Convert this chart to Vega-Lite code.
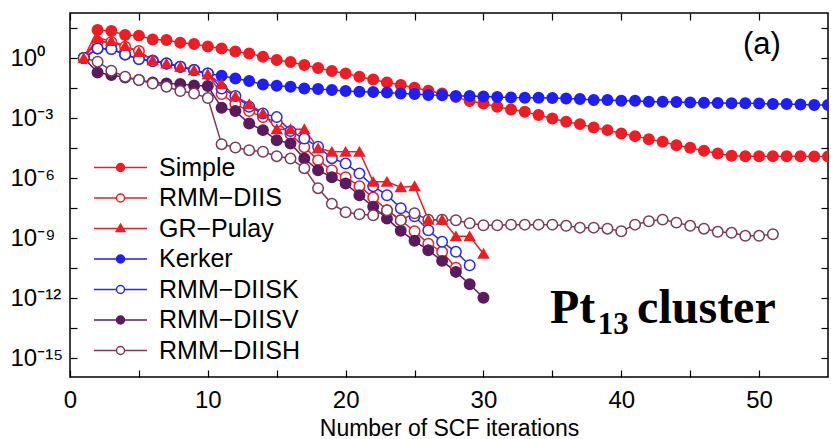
{
 "$schema": "https://vega.github.io/schema/vega-lite/v6.json",
 "width": 758, "height": 364,
 "autosize": {"type": "none"},
 "padding": {"left": 70, "top": 13, "right": 3, "bottom": 62},
 "background": "white",
 "config": {
  "view": {"stroke": "black", "strokeWidth": 1.5},
  "axis": {"domain": false, "grid": false, "tickColor": "black", "tickWidth": 1.2, "tickSize": -7,
   "labelFont": "Liberation Sans", "labelFontSize": 24, "labelColor": "black",
   "titleFont": "Liberation Sans", "titleFontSize": 23, "titleFontWeight": "normal", "titleColor": "black"},
  "legend": {"title": null, "orient": "none", "legendX": 38, "legendY": 142, "padding": 0, "labelFont": "Liberation Sans", "labelFontSize": 25, "labelColor": "black", "labelOffset": 26, "symbolSize": 100, "symbolStrokeWidth": 1.5, "rowPadding": 4.5, "labelLimit": 300}
 },
 "datasets": {
  "conv": [
   {"m":"Simple","n":1,"e":0},{"m":"Simple","n":2,"e":1.4},{"m":"Simple","n":3,"e":1.35},{"m":"Simple","n":4,"e":1.15},{"m":"Simple","n":5,"e":1.12},{"m":"Simple","n":6,"e":0.93},{"m":"Simple","n":7,"e":0.9},{"m":"Simple","n":8,"e":0.77},{"m":"Simple","n":9,"e":0.7},{"m":"Simple","n":10,"e":0.58},{"m":"Simple","n":11,"e":0.48},{"m":"Simple","n":12,"e":0.33},{"m":"Simple","n":13,"e":0.23},{"m":"Simple","n":14,"e":0.07},{"m":"Simple","n":15,"e":-0.1},{"m":"Simple","n":16,"e":-0.2},{"m":"Simple","n":17,"e":-0.35},{"m":"Simple","n":18,"e":-0.5},{"m":"Simple","n":19,"e":-0.65},{"m":"Simple","n":20,"e":-0.77},{"m":"Simple","n":21,"e":-0.93},{"m":"Simple","n":22,"e":-1.07},{"m":"Simple","n":23,"e":-1.22},{"m":"Simple","n":24,"e":-1.35},{"m":"Simple","n":25,"e":-1.48},{"m":"Simple","n":26,"e":-1.63},{"m":"Simple","n":27,"e":-1.77},{"m":"Simple","n":28,"e":-1.95},{"m":"Simple","n":29,"e":-2.15},{"m":"Simple","n":30,"e":-2.27},{"m":"Simple","n":31,"e":-2.43},{"m":"Simple","n":32,"e":-2.57},{"m":"Simple","n":33,"e":-2.68},{"m":"Simple","n":34,"e":-2.85},{"m":"Simple","n":35,"e":-3.02},{"m":"Simple","n":36,"e":-3.18},{"m":"Simple","n":37,"e":-3.3},{"m":"Simple","n":38,"e":-3.47},{"m":"Simple","n":39,"e":-3.6},{"m":"Simple","n":40,"e":-3.77},{"m":"Simple","n":41,"e":-3.9},{"m":"Simple","n":42,"e":-4.05},{"m":"Simple","n":43,"e":-4.18},{"m":"Simple","n":44,"e":-4.35},{"m":"Simple","n":45,"e":-4.48},{"m":"Simple","n":46,"e":-4.63},{"m":"Simple","n":47,"e":-4.77},{"m":"Simple","n":48,"e":-4.88},{"m":"Simple","n":49,"e":-4.9},{"m":"Simple","n":50,"e":-4.9},{"m":"Simple","n":51,"e":-4.9},{"m":"Simple","n":52,"e":-4.9},{"m":"Simple","n":53,"e":-4.9},{"m":"Simple","n":54,"e":-4.92},{"m":"Simple","n":55,"e":-4.92},
   {"m":"RMM-DIIS","n":1,"e":0},{"m":"RMM-DIIS","n":2,"e":0.82},{"m":"RMM-DIIS","n":3,"e":0.8},{"m":"RMM-DIIS","n":4,"e":0.57},{"m":"RMM-DIIS","n":5,"e":0.35},{"m":"RMM-DIIS","n":6,"e":-0.12},{"m":"RMM-DIIS","n":7,"e":-0.27},{"m":"RMM-DIIS","n":8,"e":-0.43},{"m":"RMM-DIIS","n":9,"e":-0.6},{"m":"RMM-DIIS","n":10,"e":-0.8},{"m":"RMM-DIIS","n":11,"e":-1.8},{"m":"RMM-DIIS","n":12,"e":-2.3},{"m":"RMM-DIIS","n":13,"e":-2.65},{"m":"RMM-DIIS","n":14,"e":-2.95},{"m":"RMM-DIIS","n":15,"e":-3.2},{"m":"RMM-DIIS","n":16,"e":-3.8},{"m":"RMM-DIIS","n":17,"e":-4.45},{"m":"RMM-DIIS","n":18,"e":-5.1},{"m":"RMM-DIIS","n":19,"e":-5.6},{"m":"RMM-DIIS","n":20,"e":-5.95},{"m":"RMM-DIIS","n":21,"e":-6.4},{"m":"RMM-DIIS","n":22,"e":-6.97},{"m":"RMM-DIIS","n":23,"e":-7.6},{"m":"RMM-DIIS","n":24,"e":-8.1},{"m":"RMM-DIIS","n":25,"e":-8.65},{"m":"RMM-DIIS","n":26,"e":-9.27},{"m":"RMM-DIIS","n":27,"e":-9.68},{"m":"RMM-DIIS","n":28,"e":-10.47},
   {"m":"GR-Pulay","n":1,"e":0},{"m":"GR-Pulay","n":2,"e":1.0},{"m":"GR-Pulay","n":3,"e":0.85},{"m":"GR-Pulay","n":4,"e":0.6},{"m":"GR-Pulay","n":5,"e":0.3},{"m":"GR-Pulay","n":6,"e":-0.1},{"m":"GR-Pulay","n":7,"e":-0.27},{"m":"GR-Pulay","n":8,"e":-0.43},{"m":"GR-Pulay","n":9,"e":-0.6},{"m":"GR-Pulay","n":10,"e":-0.8},{"m":"GR-Pulay","n":11,"e":-1.3},{"m":"GR-Pulay","n":12,"e":-1.9},{"m":"GR-Pulay","n":13,"e":-2.3},{"m":"GR-Pulay","n":14,"e":-2.75},{"m":"GR-Pulay","n":15,"e":-3.55},{"m":"GR-Pulay","n":16,"e":-3.55},{"m":"GR-Pulay","n":17,"e":-3.55},{"m":"GR-Pulay","n":18,"e":-4.5},{"m":"GR-Pulay","n":19,"e":-4.68},{"m":"GR-Pulay","n":20,"e":-4.68},{"m":"GR-Pulay","n":21,"e":-4.68},{"m":"GR-Pulay","n":22,"e":-6.18},{"m":"GR-Pulay","n":23,"e":-6.18},{"m":"GR-Pulay","n":24,"e":-6.45},{"m":"GR-Pulay","n":25,"e":-6.4},{"m":"GR-Pulay","n":26,"e":-8.07},{"m":"GR-Pulay","n":27,"e":-8.07},{"m":"GR-Pulay","n":28,"e":-8.9},{"m":"GR-Pulay","n":29,"e":-8.9},{"m":"GR-Pulay","n":30,"e":-9.77},
   {"m":"Kerker","n":1,"e":0},{"m":"Kerker","n":2,"e":0.48},{"m":"Kerker","n":3,"e":0.45},{"m":"Kerker","n":4,"e":0.18},{"m":"Kerker","n":5,"e":-0.05},{"m":"Kerker","n":6,"e":-0.15},{"m":"Kerker","n":7,"e":-0.27},{"m":"Kerker","n":8,"e":-0.43},{"m":"Kerker","n":9,"e":-0.6},{"m":"Kerker","n":10,"e":-0.77},{"m":"Kerker","n":11,"e":-0.88},{"m":"Kerker","n":12,"e":-1.02},{"m":"Kerker","n":13,"e":-1.15},{"m":"Kerker","n":14,"e":-1.32},{"m":"Kerker","n":15,"e":-1.38},{"m":"Kerker","n":16,"e":-1.43},{"m":"Kerker","n":17,"e":-1.52},{"m":"Kerker","n":18,"e":-1.55},{"m":"Kerker","n":19,"e":-1.6},{"m":"Kerker","n":20,"e":-1.65},{"m":"Kerker","n":21,"e":-1.68},{"m":"Kerker","n":22,"e":-1.7},{"m":"Kerker","n":23,"e":-1.72},{"m":"Kerker","n":24,"e":-1.77},{"m":"Kerker","n":25,"e":-1.8},{"m":"Kerker","n":26,"e":-1.85},{"m":"Kerker","n":27,"e":-1.86},{"m":"Kerker","n":28,"e":-1.9},{"m":"Kerker","n":29,"e":-1.9},{"m":"Kerker","n":30,"e":-1.92},{"m":"Kerker","n":31,"e":-1.94},{"m":"Kerker","n":32,"e":-1.97},{"m":"Kerker","n":33,"e":-1.98},{"m":"Kerker","n":34,"e":-1.98},{"m":"Kerker","n":35,"e":-2.0},{"m":"Kerker","n":36,"e":-2.02},{"m":"Kerker","n":37,"e":-2.05},{"m":"Kerker","n":38,"e":-2.1},{"m":"Kerker","n":39,"e":-2.1},{"m":"Kerker","n":40,"e":-2.13},{"m":"Kerker","n":41,"e":-2.13},{"m":"Kerker","n":42,"e":-2.18},{"m":"Kerker","n":43,"e":-2.18},{"m":"Kerker","n":44,"e":-2.2},{"m":"Kerker","n":45,"e":-2.22},{"m":"Kerker","n":46,"e":-2.23},{"m":"Kerker","n":47,"e":-2.24},{"m":"Kerker","n":48,"e":-2.26},{"m":"Kerker","n":49,"e":-2.26},{"m":"Kerker","n":50,"e":-2.27},{"m":"Kerker","n":51,"e":-2.3},{"m":"Kerker","n":52,"e":-2.3},{"m":"Kerker","n":53,"e":-2.32},{"m":"Kerker","n":54,"e":-2.35},{"m":"Kerker","n":55,"e":-2.35},
   {"m":"RMM-DIISK","n":1,"e":0},{"m":"RMM-DIISK","n":2,"e":0.48},{"m":"RMM-DIISK","n":3,"e":0.45},{"m":"RMM-DIISK","n":4,"e":0.18},{"m":"RMM-DIISK","n":5,"e":-0.05},{"m":"RMM-DIISK","n":6,"e":-0.15},{"m":"RMM-DIISK","n":7,"e":-0.27},{"m":"RMM-DIISK","n":8,"e":-0.43},{"m":"RMM-DIISK","n":9,"e":-0.6},{"m":"RMM-DIISK","n":10,"e":-0.77},{"m":"RMM-DIISK","n":11,"e":-1.52},{"m":"RMM-DIISK","n":12,"e":-1.9},{"m":"RMM-DIISK","n":13,"e":-2.43},{"m":"RMM-DIISK","n":14,"e":-2.77},{"m":"RMM-DIISK","n":15,"e":-2.95},{"m":"RMM-DIISK","n":16,"e":-3.65},{"m":"RMM-DIISK","n":17,"e":-4.02},{"m":"RMM-DIISK","n":18,"e":-4.43},{"m":"RMM-DIISK","n":19,"e":-5.0},{"m":"RMM-DIISK","n":20,"e":-5.27},{"m":"RMM-DIISK","n":21,"e":-5.77},{"m":"RMM-DIISK","n":22,"e":-6.4},{"m":"RMM-DIISK","n":23,"e":-6.85},{"m":"RMM-DIISK","n":24,"e":-7.5},{"m":"RMM-DIISK","n":25,"e":-7.9},{"m":"RMM-DIISK","n":26,"e":-8.6},{"m":"RMM-DIISK","n":27,"e":-9.18},{"m":"RMM-DIISK","n":28,"e":-9.68},{"m":"RMM-DIISK","n":29,"e":-10.35},
   {"m":"RMM-DIISV","n":1,"e":0},{"m":"RMM-DIISV","n":2,"e":-0.72},{"m":"RMM-DIISV","n":3,"e":-0.85},{"m":"RMM-DIISV","n":4,"e":-0.97},{"m":"RMM-DIISV","n":5,"e":-1.1},{"m":"RMM-DIISV","n":6,"e":-1.22},{"m":"RMM-DIISV","n":7,"e":-1.27},{"m":"RMM-DIISV","n":8,"e":-1.3},{"m":"RMM-DIISV","n":9,"e":-1.37},{"m":"RMM-DIISV","n":10,"e":-1.4},{"m":"RMM-DIISV","n":11,"e":-2.48},{"m":"RMM-DIISV","n":12,"e":-2.65},{"m":"RMM-DIISV","n":13,"e":-3.27},{"m":"RMM-DIISV","n":14,"e":-3.6},{"m":"RMM-DIISV","n":15,"e":-4.1},{"m":"RMM-DIISV","n":16,"e":-4.27},{"m":"RMM-DIISV","n":17,"e":-5.02},{"m":"RMM-DIISV","n":18,"e":-5.6},{"m":"RMM-DIISV","n":19,"e":-5.95},{"m":"RMM-DIISV","n":20,"e":-6.27},{"m":"RMM-DIISV","n":21,"e":-6.85},{"m":"RMM-DIISV","n":22,"e":-7.43},{"m":"RMM-DIISV","n":23,"e":-8.02},{"m":"RMM-DIISV","n":24,"e":-8.63},{"m":"RMM-DIISV","n":25,"e":-9.13},{"m":"RMM-DIISV","n":26,"e":-9.6},{"m":"RMM-DIISV","n":27,"e":-10.13},{"m":"RMM-DIISV","n":28,"e":-10.68},{"m":"RMM-DIISV","n":29,"e":-11.3},{"m":"RMM-DIISV","n":30,"e":-11.97},
   {"m":"RMM-DIISH","n":1,"e":0},{"m":"RMM-DIISH","n":2,"e":-0.18},{"m":"RMM-DIISH","n":3,"e":-0.63},{"m":"RMM-DIISH","n":4,"e":-0.93},{"m":"RMM-DIISH","n":5,"e":-1.1},{"m":"RMM-DIISH","n":6,"e":-1.27},{"m":"RMM-DIISH","n":7,"e":-1.43},{"m":"RMM-DIISH","n":8,"e":-1.65},{"m":"RMM-DIISH","n":9,"e":-1.77},{"m":"RMM-DIISH","n":10,"e":-2.0},{"m":"RMM-DIISH","n":11,"e":-4.3},{"m":"RMM-DIISH","n":12,"e":-4.47},{"m":"RMM-DIISH","n":13,"e":-4.6},{"m":"RMM-DIISH","n":14,"e":-4.68},{"m":"RMM-DIISH","n":15,"e":-4.9},{"m":"RMM-DIISH","n":16,"e":-5.02},{"m":"RMM-DIISH","n":17,"e":-5.5},{"m":"RMM-DIISH","n":18,"e":-6.5},{"m":"RMM-DIISH","n":19,"e":-7.28},{"m":"RMM-DIISH","n":20,"e":-7.7},{"m":"RMM-DIISH","n":21,"e":-7.8},{"m":"RMM-DIISH","n":22,"e":-7.85},{"m":"RMM-DIISH","n":23,"e":-7.6},{"m":"RMM-DIISH","n":24,"e":-8.1},{"m":"RMM-DIISH","n":25,"e":-7.75},{"m":"RMM-DIISH","n":26,"e":-8.07},{"m":"RMM-DIISH","n":27,"e":-8.07},{"m":"RMM-DIISH","n":28,"e":-8.1},{"m":"RMM-DIISH","n":29,"e":-8.25},{"m":"RMM-DIISH","n":30,"e":-8.35},{"m":"RMM-DIISH","n":31,"e":-8.35},{"m":"RMM-DIISH","n":32,"e":-8.32},{"m":"RMM-DIISH","n":33,"e":-8.32},{"m":"RMM-DIISH","n":34,"e":-8.32},{"m":"RMM-DIISH","n":35,"e":-8.32},{"m":"RMM-DIISH","n":36,"e":-8.38},{"m":"RMM-DIISH","n":37,"e":-8.47},{"m":"RMM-DIISH","n":38,"e":-8.47},{"m":"RMM-DIISH","n":39,"e":-8.52},{"m":"RMM-DIISH","n":40,"e":-8.65},{"m":"RMM-DIISH","n":41,"e":-8.32},{"m":"RMM-DIISH","n":42,"e":-8.15},{"m":"RMM-DIISH","n":43,"e":-8.07},{"m":"RMM-DIISH","n":44,"e":-8.22},{"m":"RMM-DIISH","n":45,"e":-8.38},{"m":"RMM-DIISH","n":46,"e":-8.52},{"m":"RMM-DIISH","n":47,"e":-8.68},{"m":"RMM-DIISH","n":48,"e":-8.73},{"m":"RMM-DIISH","n":49,"e":-8.88},{"m":"RMM-DIISH","n":50,"e":-8.88},{"m":"RMM-DIISH","n":51,"e":-8.8}
  ]
 },
 "layer": [
  {
   "data": {"name": "conv"},
   "mark": {"type": "line", "strokeWidth": 1.5, "clip": true},
   "encoding": {
    "x": {"field": "n", "type": "quantitative", "scale": {"domain": [0, 55], "nice": false, "zero": false},
     "axis": {"orient": "bottom", "values": [0,5,10,15,20,25,30,35,40,45,50], "labelExpr": "datum.value % 10 == 0 ? datum.label : ''", "labelPadding": 18, "labelFlush": false, "title": "Number of SCF iterations", "titlePadding": 5}},
    "y": {"field": "e", "type": "quantitative", "scale": {"domain": [-15.93, 2.25], "nice": false, "zero": false},
     "axis": {"orient": "left", "values": [-15,-13.5,-12,-10.5,-9,-7.5,-6,-4.5,-3,-1.5,0,1.5],
      "labelExpr": "datum.value == 0 ? '10⁰' : datum.value == -3 ? '10⁻³' : datum.value == -6 ? '10⁻⁶' : datum.value == -9 ? '10⁻⁹' : datum.value == -12 ? '10⁻¹²' : datum.value == -15 ? '10⁻¹⁵' : ''",
      "labelAlign": "left", "labelPadding": 67, "title": null}},
    "stroke": {"field": "m", "type": "nominal",
     "scale": {"domain": ["Simple","RMM-DIIS","GR-Pulay","Kerker","RMM-DIISK","RMM-DIISV","RMM-DIISH"], "range": ["#ee1c24","#ee1c24","#ee1c24","#1e1ef5","#2828f5","#5c1a5e","#7b3a57"]},
     "legend": {"labelExpr": "replace(datum.label, '-', '−')"}}
   }
  },
  {
   "data": {"name": "conv"},
   "transform": [{"filter": "datum.m != 'GR-Pulay'"}],
   "mark": {"type": "point", "shape": "circle", "opacity": 1, "strokeWidth": 1.5, "size": 110, "clip": true},
   "encoding": {
    "x": {"field": "n", "type": "quantitative", "axis": null},
    "y": {"field": "e", "type": "quantitative", "axis": null},
    "stroke": {"field": "m", "type": "nominal",
     "scale": {"domain": ["Simple","RMM-DIIS","GR-Pulay","Kerker","RMM-DIISK","RMM-DIISV","RMM-DIISH"], "range": ["#ee1c24","#ee1c24","#ee1c24","#1e1ef5","#2828f5","#5c1a5e","#7b3a57"]},
     "legend": {"labelExpr": "replace(datum.label, '-', '−')"}},
    "fill": {"field": "m", "type": "nominal",
     "scale": {"domain": ["Simple","RMM-DIIS","GR-Pulay","Kerker","RMM-DIISK","RMM-DIISV","RMM-DIISH"], "range": ["#ee1c24","#ffffff","#ee1c24","#1e1ef5","#ffffff","#5c1a5e","#ffffff"]},
     "legend": {"labelExpr": "replace(datum.label, '-', '−')"}}
   }
  },
  {
   "data": {"name": "conv"},
   "transform": [{"filter": "datum.m == 'GR-Pulay'"}],
   "mark": {"type": "point", "shape": "triangle-up", "opacity": 1, "strokeWidth": 1.5, "size": 100, "clip": true},
   "encoding": {
    "x": {"field": "n", "type": "quantitative", "axis": null},
    "y": {"field": "e", "type": "quantitative", "axis": null},
    "stroke": {"field": "m", "type": "nominal",
     "scale": {"domain": ["Simple","RMM-DIIS","GR-Pulay","Kerker","RMM-DIISK","RMM-DIISV","RMM-DIISH"], "range": ["#ee1c24","#ee1c24","#ee1c24","#1e1ef5","#2828f5","#5c1a5e","#7b3a57"]},
     "legend": {"labelExpr": "replace(datum.label, '-', '−')"}},
    "fill": {"field": "m", "type": "nominal",
     "scale": {"domain": ["Simple","RMM-DIIS","GR-Pulay","Kerker","RMM-DIISK","RMM-DIISV","RMM-DIISH"], "range": ["#ee1c24","#ffffff","#ee1c24","#1e1ef5","#ffffff","#5c1a5e","#ffffff"]},
     "legend": {"labelExpr": "replace(datum.label, '-', '−')"}}
   }
  },
  {
   "data": {"name": "conv"},
   "transform": [{"filter": "datum.n < 0"}],
   "mark": {"type": "point", "opacity": 1, "strokeWidth": 1.5},
   "encoding": {
    "x": {"field": "n", "type": "quantitative", "axis": null},
    "y": {"field": "e", "type": "quantitative", "axis": null},
    "stroke": {"field": "m", "type": "nominal",
     "scale": {"domain": ["Simple","RMM-DIIS","GR-Pulay","Kerker","RMM-DIISK","RMM-DIISV","RMM-DIISH"], "range": ["#ee1c24","#ee1c24","#ee1c24","#1e1ef5","#2828f5","#5c1a5e","#7b3a57"]},
     "legend": {"labelExpr": "replace(datum.label, '-', '−')"}},
    "fill": {"field": "m", "type": "nominal",
     "scale": {"domain": ["Simple","RMM-DIIS","GR-Pulay","Kerker","RMM-DIISK","RMM-DIISV","RMM-DIISH"], "range": ["#ee1c24","#ffffff","#ee1c24","#1e1ef5","#ffffff","#5c1a5e","#ffffff"]},
     "legend": {"labelExpr": "replace(datum.label, '-', '−')"}},
    "shape": {"field": "m", "type": "nominal",
     "scale": {"domain": ["Simple","RMM-DIIS","GR-Pulay","Kerker","RMM-DIISK","RMM-DIISV","RMM-DIISH"],
      "range": ["M-5.3,0H5.3M0.8,0A0.8,0.8,0,1,1,-0.8,0A0.8,0.8,0,1,1,0.8,0Z",
                "M-5.3,0H-0.8M0.8,0H5.3M0.8,0A0.8,0.8,0,1,1,-0.8,0A0.8,0.8,0,1,1,0.8,0Z",
                "M-5.3,0H5.3M0,-0.85L0.85,0.6L-0.85,0.6Z",
                "M-5.3,0H5.3M0.8,0A0.8,0.8,0,1,1,-0.8,0A0.8,0.8,0,1,1,0.8,0Z",
                "M-5.3,0H-0.8M0.8,0H5.3M0.8,0A0.8,0.8,0,1,1,-0.8,0A0.8,0.8,0,1,1,0.8,0Z",
                "M-5.3,0H5.3M0.8,0A0.8,0.8,0,1,1,-0.8,0A0.8,0.8,0,1,1,0.8,0Z",
                "M-5.3,0H-0.8M0.8,0H5.3M0.8,0A0.8,0.8,0,1,1,-0.8,0A0.8,0.8,0,1,1,0.8,0Z"]},
     "legend": {"labelExpr": "replace(datum.label, '-', '−')"}}
   }
  },
  {
   "data": {"values": [{"x": 50.2, "e": 0.65, "t": "(a)"}]},
   "mark": {"type": "text", "font": "Liberation Sans", "fontSize": 31, "align": "center", "baseline": "middle", "color": "black"},
   "encoding": {
    "x": {"field": "x", "type": "quantitative", "axis": null},
    "y": {"field": "e", "type": "quantitative", "axis": null},
    "text": {"field": "t"}
   }
  },
  {
   "data": {"values": [{"x": 34.83, "e": -13.25, "t": "Pt"}, {"x": 41.15, "e": -13.25, "t": "cluster"}]},
   "mark": {"type": "text", "font": "Liberation Serif", "fontWeight": "bold", "fontSize": 48, "align": "left", "baseline": "alphabetic", "color": "black"},
   "encoding": {
    "x": {"field": "x", "type": "quantitative", "axis": null},
    "y": {"field": "e", "type": "quantitative", "axis": null},
    "text": {"field": "t"}
   }
  },
  {
   "data": {"values": [{"x": 38.3, "e": -13.8, "t": "13"}]},
   "mark": {"type": "text", "font": "Liberation Serif", "fontWeight": "bold", "fontSize": 31, "align": "left", "baseline": "alphabetic", "color": "black"},
   "encoding": {
    "x": {"field": "x", "type": "quantitative", "axis": null},
    "y": {"field": "e", "type": "quantitative", "axis": null},
    "text": {"field": "t"}
   }
  },
  {
   "data": {"name": "conv"},
   "mark": {"type": "point", "opacity": 0},
   "encoding": {
    "x": {"field": "n", "type": "quantitative", "axis": {"orient": "top", "values": [0,5,10,15,20,25,30,35,40,45,50], "labels": false, "title": null}},
    "y": {"field": "e", "type": "quantitative", "axis": {"orient": "right", "values": [-15,-13.5,-12,-10.5,-9,-7.5,-6,-4.5,-3,-1.5,0,1.5], "labels": false, "title": null}}
   }
  }
 ],
 "resolve": {"axis": {"x": "independent", "y": "independent"}}
}
